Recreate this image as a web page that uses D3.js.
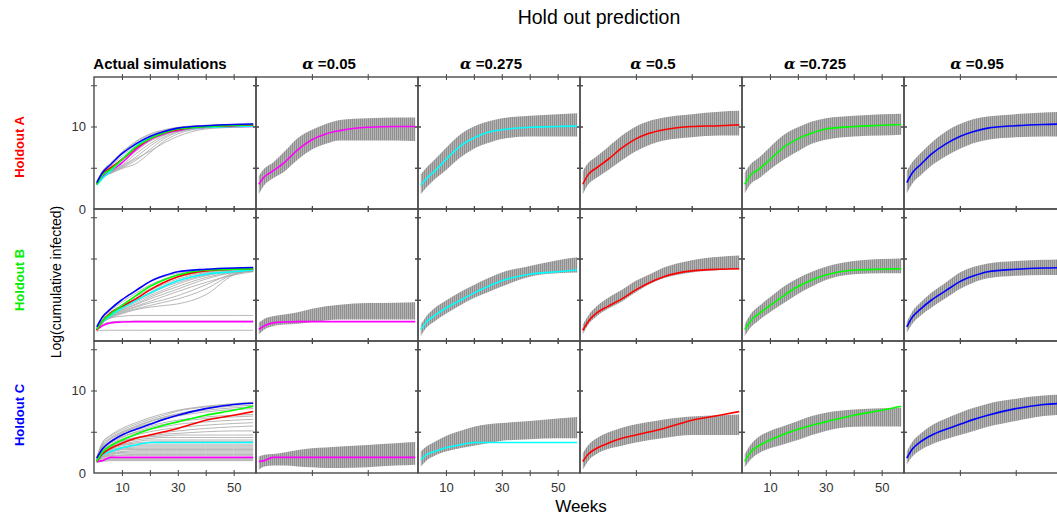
<!DOCTYPE html>
<html lang="en">
<head>
<meta charset="UTF-8">
<title>Hold out prediction</title>
<script src="https://d3js.org/d3.v7.min.js"></script>
<style>
  body { margin: 0; background: #fff; }
  text { font-family: "Liberation Sans", Arial, sans-serif; }
</style>
</head>
<body>
<svg id="chart"></svg>
<script>
const weeks = [1, 3, 6, 10, 15, 20, 25, 30, 40, 50, 57];
const alphas = ["0.05", "0.275", "0.5", "0.725", "0.95"];
const holdouts = ["Holdout A", "Holdout B", "Holdout C"];
const xTickLabels = [10, 30, 50];

// held-out trajectories, one per alpha (magenta, cyan, red, green, blue)
const predA = [
  [3.0, 3.9, 4.6, 5.6, 7.2, 8.4, 9.1, 9.5, 9.9, 10.0, 10.0],
  [2.9, 3.7, 4.6, 6.0, 7.6, 8.6, 9.3, 9.6, 9.9, 10.0, 10.05],
  [3.0, 4.2, 5.0, 6.0, 7.4, 8.5, 9.2, 9.6, 10.0, 10.1, 10.2],
  [3.0, 4.1, 4.8, 6.0, 7.5, 8.5, 9.2, 9.7, 10.0, 10.15, 10.25],
  [3.2, 4.4, 5.4, 6.7, 7.9, 8.8, 9.4, 9.8, 10.1, 10.25, 10.3]
];
const predB = [
  [1.4, 1.85, 2.2, 2.3, 2.35, 2.35, 2.35, 2.35, 2.35, 2.35, 2.35],
  [1.4, 2.3, 3.1, 4.0, 4.9, 5.8, 6.6, 7.3, 8.1, 8.4, 8.6],
  [1.3, 2.4, 3.4, 4.2, 5.1, 6.2, 7.1, 7.8, 8.5, 8.7, 8.75],
  [1.4, 2.4, 3.3, 4.3, 5.5, 6.6, 7.4, 8.0, 8.6, 8.7, 8.75],
  [1.7, 2.9, 3.9, 5.0, 6.1, 7.2, 7.9, 8.4, 8.7, 8.85, 8.9]
];
const predC = [
  [1.4, 1.5, 1.9, 1.9, 1.9, 1.9, 1.9, 1.9, 1.9, 1.9, 1.9],
  [1.6, 2.2, 2.6, 3.05, 3.4, 3.7, 3.7, 3.7, 3.7, 3.7, 3.7],
  [1.4, 2.3, 3.0, 3.6, 4.2, 4.6, 5.0, 5.4, 6.4, 7.0, 7.45],
  [1.4, 2.5, 3.3, 4.0, 4.7, 5.3, 5.8, 6.2, 7.0, 7.6, 8.1],
  [1.8, 2.9, 3.8, 4.6, 5.3, 5.9, 6.5, 7.0, 7.8, 8.3, 8.45]
];

// prediction bands (lower / upper), same order
const bandLoA = [
  [1.8, 2.9, 3.7, 4.5, 6.0, 7.2, 7.9, 8.3, 8.3, 8.3, 8.25],
  [1.8, 2.6, 3.6, 4.7, 6.2, 7.3, 8.0, 8.5, 8.8, 8.8, 8.8],
  [1.8, 3.0, 3.8, 4.7, 5.9, 7.0, 7.8, 8.3, 8.7, 8.9, 8.9],
  [1.9, 3.0, 3.7, 4.8, 6.0, 7.0, 7.9, 8.4, 8.8, 8.9, 9.0],
  [1.9, 3.1, 4.1, 5.3, 6.4, 7.3, 8.0, 8.4, 8.7, 8.8, 8.8]
];
const bandHiA = [
  [4.0, 4.9, 5.6, 6.9, 8.6, 9.6, 10.3, 10.8, 11.0, 11.1, 11.1],
  [4.2, 5.0, 6.0, 7.4, 9.0, 10.0, 10.6, 11.0, 11.3, 11.5, 11.6],
  [4.6, 5.6, 6.4, 7.5, 8.9, 10.0, 10.7, 11.1, 11.5, 11.8, 11.9],
  [4.4, 5.4, 6.2, 7.5, 9.0, 9.9, 10.6, 11.0, 11.3, 11.5, 11.55],
  [4.6, 5.7, 6.8, 8.1, 9.4, 10.3, 10.9, 11.2, 11.5, 11.7, 11.8]
];
const bandLoB = [
  [0.8, 1.4, 1.8, 2.0, 2.1, 2.3, 2.5, 2.6, 2.6, 2.6, 2.6],
  [0.6, 1.6, 2.4, 3.3, 4.3, 5.2, 5.9, 6.6, 7.8, 8.2, 8.3],
  [0.8, 2.0, 3.0, 3.9, 4.8, 5.9, 6.9, 7.6, 8.3, 8.6, 8.7],
  [0.6, 1.6, 2.5, 3.5, 4.6, 5.7, 6.6, 7.4, 8.1, 8.2, 8.2],
  [1.0, 2.1, 3.1, 4.1, 5.2, 6.3, 7.1, 7.6, 7.9, 8.0, 8.0]
];
const bandHiB = [
  [2.2, 2.7, 3.0, 3.2, 3.5, 3.9, 4.2, 4.4, 4.6, 4.65, 4.7],
  [2.0, 3.0, 4.0, 4.9, 5.9, 6.8, 7.6, 8.3, 9.1, 9.8, 10.15],
  [2.0, 3.1, 4.2, 5.2, 6.2, 7.3, 8.1, 8.9, 9.8, 10.2, 10.35],
  [2.0, 3.2, 4.2, 5.3, 6.6, 7.6, 8.4, 9.0, 9.7, 9.95, 10.0],
  [2.3, 3.6, 4.7, 5.9, 7.1, 8.3, 9.0, 9.4, 9.7, 9.85, 9.9]
];
const bandLoC = [
  [0.4, 0.8, 0.9, 0.9, 0.8, 0.7, 0.6, 0.6, 0.7, 0.9, 1.0],
  [0.8, 1.5, 2.1, 2.6, 3.0, 3.3, 3.6, 3.9, 4.1, 4.2, 4.2],
  [0.4, 1.5, 2.3, 2.9, 3.3, 3.7, 4.0, 4.25, 4.6, 4.6, 4.6],
  [0.7, 1.6, 2.4, 3.0, 3.5, 4.0, 4.6, 5.1, 5.6, 5.65, 5.65],
  [1.0, 2.0, 2.8, 3.5, 4.1, 4.6, 5.1, 5.6, 6.3, 6.9, 7.05]
];
const bandHiC = [
  [2.0, 2.2, 2.3, 2.5, 2.8, 3.0, 3.1, 3.2, 3.4, 3.6, 3.75],
  [2.6, 3.2, 3.8, 4.5, 5.1, 5.6, 5.9, 6.05, 6.3, 6.6, 6.8],
  [2.4, 3.4, 4.2, 4.9, 5.5, 5.9, 6.2, 6.5, 6.85, 7.0, 7.1],
  [2.3, 3.4, 4.4, 5.1, 5.7, 6.3, 6.9, 7.3, 7.7, 7.85, 7.9],
  [2.6, 3.8, 4.8, 5.8, 6.6, 7.3, 7.9, 8.4, 9.0, 9.4, 9.5]
];

// other simulated trajectories (grey) in the "Actual simulations" column
const simsA = [
  [3.0, 3.8, 4.3, 4.9, 5.5, 6.8, 8.2, 9.1, 9.8, 9.95, 10.0],
  [3.0, 3.8, 4.4, 5.0, 5.9, 7.2, 8.5, 9.3, 9.85, 10.0, 10.0],
  [3.0, 3.8, 4.4, 5.1, 6.1, 7.0, 8.0, 8.8, 9.7, 9.9, 10.0],
  [3.0, 3.9, 4.5, 5.2, 6.3, 7.6, 8.7, 9.4, 9.9, 10.0, 10.0],
  [3.0, 3.9, 4.5, 5.3, 6.7, 7.9, 8.9, 9.5, 9.9, 10.0, 10.05],
  [3.1, 4.0, 4.7, 5.6, 7.0, 8.2, 9.0, 9.5, 9.9, 10.0, 10.05],
  [3.1, 4.1, 4.8, 5.8, 7.3, 8.5, 9.2, 9.6, 10.0, 10.1, 10.1],
  [3.2, 4.3, 5.2, 6.4, 7.8, 8.8, 9.4, 9.8, 10.1, 10.2, 10.2],
  [3.2, 4.5, 5.5, 6.8, 8.1, 9.0, 9.5, 9.85, 10.1, 10.2, 10.25],
  [3.3, 4.6, 5.6, 6.9, 8.2, 9.1, 9.6, 9.9, 10.15, 10.25, 10.3]
];
const simsB = [
  [1.2, 1.3, 1.3, 1.3, 1.3, 1.3, 1.3, 1.3, 1.3, 1.3, 1.3],
  [1.3, 2.0, 2.3, 2.4, 2.4, 2.4, 2.4, 2.4, 2.4, 2.4, 2.4],
  [1.3, 2.3, 2.8, 3.0, 3.1, 3.1, 3.1, 3.1, 3.1, 3.1, 3.1],
  [1.4, 2.2, 2.8, 3.3, 3.8, 4.1, 4.3, 4.5, 5.6, 8.0, 8.5],
  [1.4, 2.2, 2.9, 3.4, 3.9, 4.3, 4.7, 5.1, 6.3, 8.1, 8.5],
  [1.4, 2.2, 2.9, 3.5, 4.1, 4.6, 5.0, 5.5, 6.8, 8.2, 8.5],
  [1.4, 2.3, 3.0, 3.6, 4.2, 4.8, 5.4, 6.0, 7.1, 8.0, 8.4],
  [1.4, 2.3, 3.0, 3.7, 4.4, 5.1, 5.7, 6.3, 7.5, 8.3, 8.5],
  [1.4, 2.3, 3.1, 3.8, 4.5, 5.3, 6.0, 6.6, 7.7, 8.3, 8.5],
  [1.4, 2.3, 3.1, 3.9, 4.7, 5.5, 6.2, 6.9, 7.9, 8.4, 8.55],
  [1.4, 2.4, 3.2, 4.0, 4.9, 5.7, 6.5, 7.1, 8.0, 8.45, 8.6],
  [1.4, 2.4, 3.2, 4.1, 5.0, 5.9, 6.7, 7.3, 8.2, 8.5, 8.6],
  [1.4, 2.4, 3.3, 4.2, 5.2, 6.1, 6.9, 7.5, 8.3, 8.6, 8.6],
  [1.5, 2.6, 3.5, 4.4, 5.4, 6.3, 7.1, 7.7, 8.4, 8.6, 8.65],
  [1.5, 2.7, 3.7, 4.7, 5.8, 6.8, 7.5, 8.0, 8.5, 8.7, 8.7],
  [1.6, 2.9, 4.0, 5.0, 6.2, 7.2, 7.8, 8.2, 8.6, 8.75, 8.8]
];
const simsC = [
  [1.3, 1.4, 1.5, 1.5, 1.5, 1.5, 1.5, 1.5, 1.5, 1.5, 1.5],
  [1.3, 1.5, 1.6, 1.6, 1.6, 1.6, 1.6, 1.6, 1.6, 1.6, 1.6],
  [1.3, 1.5, 1.7, 1.7, 1.7, 1.7, 1.7, 1.7, 1.7, 1.7, 1.7],
  [1.4, 1.7, 1.8, 1.8, 1.8, 1.8, 1.8, 1.8, 1.8, 1.8, 1.8],
  [1.4, 1.8, 2.0, 2.1, 2.1, 2.1, 2.1, 2.1, 2.1, 2.1, 2.1],
  [1.4, 1.9, 2.1, 2.2, 2.25, 2.25, 2.25, 2.25, 2.25, 2.25, 2.25],
  [1.4, 1.9, 2.2, 2.4, 2.4, 2.4, 2.4, 2.4, 2.4, 2.4, 2.4],
  [1.4, 2.0, 2.3, 2.5, 2.55, 2.55, 2.55, 2.55, 2.55, 2.55, 2.55],
  [1.4, 2.0, 2.4, 2.6, 2.7, 2.7, 2.7, 2.7, 2.7, 2.7, 2.7],
  [1.5, 2.1, 2.5, 2.8, 2.85, 2.85, 2.85, 2.85, 2.85, 2.85, 2.85],
  [1.5, 2.2, 2.6, 2.9, 3.0, 3.0, 3.0, 3.0, 3.0, 3.0, 3.0],
  [1.5, 2.2, 2.7, 3.0, 3.15, 3.15, 3.15, 3.15, 3.15, 3.15, 3.15],
  [1.5, 2.3, 2.8, 3.1, 3.3, 3.3, 3.3, 3.3, 3.3, 3.3, 3.3],
  [1.5, 2.4, 2.9, 3.3, 3.5, 3.5, 3.5, 3.5, 3.5, 3.5, 3.5],
  [1.5, 2.5, 3.0, 3.4, 3.65, 3.75, 3.8, 3.8, 3.8, 3.8, 3.8],
  [1.5, 2.5, 3.1, 3.5, 3.8, 4.0, 4.0, 4.0, 4.0, 4.0, 4.0],
  [1.5, 2.6, 3.2, 3.7, 4.0, 4.2, 4.3, 4.3, 4.3, 4.3, 4.3],
  [1.6, 2.7, 3.3, 3.8, 4.2, 4.4, 4.5, 4.6, 4.6, 4.6, 4.6],
  [1.6, 2.7, 3.4, 3.9, 4.3, 4.5, 4.7, 4.8, 5.0, 5.1, 5.1],
  [1.6, 2.8, 3.4, 3.9, 4.3, 4.6, 4.9, 5.1, 5.4, 5.6, 5.7],
  [1.6, 2.9, 3.6, 4.1, 4.6, 5.0, 5.3, 5.5, 5.8, 6.0, 6.1],
  [1.7, 3.0, 3.7, 4.3, 4.9, 5.3, 5.6, 5.9, 6.2, 6.4, 6.5],
  [1.7, 3.0, 3.8, 4.4, 5.0, 5.5, 5.9, 6.2, 6.6, 6.8, 6.9],
  [1.7, 3.1, 3.9, 4.6, 5.2, 5.7, 6.1, 6.4, 6.8, 7.0, 7.1],
  [1.8, 3.2, 4.1, 4.8, 5.5, 6.0, 6.5, 6.9, 7.4, 7.7, 7.8],
  [1.8, 3.3, 4.2, 4.9, 5.6, 6.2, 6.7, 7.1, 7.6, 7.9, 8.0],
  [1.8, 3.4, 4.3, 5.0, 5.7, 6.3, 6.8, 7.2, 7.8, 8.1, 8.2],
  [1.9, 3.6, 4.5, 5.2, 5.9, 6.5, 7.0, 7.5, 8.0, 8.3, 8.5],
  [1.9, 3.7, 4.6, 5.4, 6.1, 6.7, 7.2, 7.6, 8.1, 8.4, 8.6]
];

const preds = [predA, predB, predC];
const bandLo = [bandLoA, bandLoB, bandLoC];
const bandHi = [bandHiA, bandHiB, bandHiC];
const sims = [simsA, simsB, simsC];

const lineColors = ["#ff00ff", "#00ffff", "#ff0000", "#00ff00", "#0000ff"];
const rowColors = ["#ff0000", "#00ee00", "#0000ff"];

const svgW = 1057, svgH = 518;
const panelLeft = 94, panelTop = 77, pw = 162, ph = 132;

const svg = d3.select("#chart").attr("width", svgW).attr("height", svgH);

const x = d3.scaleLinear().domain([0, 58]).range([0, pw]);
const y = d3.scaleLinear().domain([0, 16]).range([ph, 0]);

const line = d3.line()
  .x((d, i) => x(weeks[i]))
  .y(d => y(d))
  .curve(d3.curveMonotoneX);

const area = d3.area()
  .x((d, i) => x(weeks[i]))
  .y0(d => y(d[0]))
  .y1(d => y(d[1]))
  .curve(d3.curveMonotoneX);

// hatched grey band like the dense error bars of the original
const defs = svg.append("defs");
const pat = defs.append("pattern")
  .attr("id", "hatch")
  .attr("patternUnits", "userSpaceOnUse")
  .attr("width", 2).attr("height", 10);
pat.append("rect").attr("width", 2).attr("height", 10).attr("fill", "#b4b4b4");
pat.append("rect").attr("width", 1).attr("height", 10).attr("fill", "#8f8f8f");

holdouts.forEach((h, r) => {
  for (let c = 0; c < 6; c++) {
    const g = svg.append("g")
      .attr("transform", `translate(${panelLeft + c * pw},${panelTop + r * ph})`);

    const clipId = `clip-${r}-${c}`;
    defs.append("clipPath").attr("id", clipId)
      .append("rect").attr("width", pw).attr("height", ph);

    const plot = g.append("g").attr("clip-path", `url(#${clipId})`);

    if (c === 0) {
      plot.selectAll(".sim")
        .data(sims[r])
        .join("path")
        .attr("d", line)
        .attr("fill", "none")
        .attr("stroke", "#a4a4a4")
        .attr("stroke-width", 0.8);
      plot.selectAll(".pred")
        .data(preds[r])
        .join("path")
        .attr("d", line)
        .attr("fill", "none")
        .attr("stroke", (d, i) => lineColors[i])
        .attr("stroke-width", 1.6);
    } else {
      const k = c - 1;
      const band = bandLo[r][k].map((lo, i) => [lo, bandHi[r][k][i]]);
      plot.append("path")
        .datum(band)
        .attr("d", area)
        .attr("fill", "url(#hatch)");
      plot.append("path")
        .datum(preds[r][k])
        .attr("d", line)
        .attr("fill", "none")
        .attr("stroke", lineColors[k])
        .attr("stroke-width", 1.6);
    }

    // ticks on all four sides, crossing the frame
    const xt = (c % 2 === 0) ? [10, 20, 30, 40, 50] : [20, 40];
    const yt = [5, 10, 15];
    [0, ph].forEach(yy => {
      const ax = g.append("g")
        .attr("transform", `translate(0,${yy})`)
        .call(d3.axisBottom(x).tickValues(xt).tickSize(3).tickFormat(""));
      ax.select(".domain").remove();
      ax.selectAll(".tick line").attr("y1", -3).attr("stroke", "#444");
    });
    [0, pw].forEach(xx => {
      const ay = g.append("g")
        .attr("transform", `translate(${xx},0)`)
        .call(d3.axisLeft(y).tickValues(yt).tickSize(3).tickFormat(""));
      ay.select(".domain").remove();
      ay.selectAll(".tick line").attr("x1", 3).attr("stroke", "#444");
    });

    g.append("rect")
      .attr("width", pw).attr("height", ph)
      .attr("fill", "none")
      .attr("stroke", "#4a4a4a")
      .attr("stroke-width", 1.4);

    // x labels under columns 1, 3, 5 of the last row
    if (r === 2 && c % 2 === 0) {
      const lx = g.append("g")
        .attr("transform", `translate(0,${ph})`)
        .call(d3.axisBottom(x).tickValues(xTickLabels).tickSize(0).tickPadding(10));
      lx.select(".domain").remove();
      lx.selectAll("text")
        .attr("font-family", "Liberation Sans, Arial, sans-serif")
        .attr("font-size", 13).attr("fill", "#333");
    }
    // y labels on rows A and C of the first column
    if (c === 0 && r !== 1) {
      const ly = g.append("g")
        .call(d3.axisLeft(y).tickValues([0, 10]).tickSize(0).tickPadding(8));
      ly.select(".domain").remove();
      ly.selectAll("text")
        .attr("font-family", "Liberation Sans, Arial, sans-serif")
        .attr("font-size", 13).attr("fill", "#333");
    }
  }
});

// title and headers
svg.append("text")
  .attr("x", 599).attr("y", 24)
  .attr("text-anchor", "middle")
  .attr("font-size", 19.5)
  .text("Hold out prediction");

svg.append("text")
  .attr("x", 160).attr("y", 69)
  .attr("text-anchor", "middle")
  .attr("font-size", 15).attr("font-weight", "bold")
  .text("Actual simulations");

alphas.forEach((a, i) => {
  const t = svg.append("text")
    .attr("x", panelLeft + (i + 1) * pw + pw / 2 - 8).attr("y", 69)
    .attr("text-anchor", "middle")
    .attr("font-size", 15).attr("font-weight", "bold");
  t.append("tspan")
    .attr("font-family", "DejaVu Serif, serif")
    .attr("font-style", "italic")
    .text("α");
  t.append("tspan").text(" =" + a);
});

// row labels
const rowCenters = [147, 280, 415];
holdouts.forEach((h, r) => {
  svg.append("text")
    .attr("transform", `translate(24,${rowCenters[r]}) rotate(-90)`)
    .attr("text-anchor", "middle")
    .attr("font-size", 13).attr("font-weight", "bold")
    .attr("fill", rowColors[r])
    .text(h);
});

svg.append("text")
  .attr("transform", "translate(61,282) rotate(-90)")
  .attr("text-anchor", "middle")
  .attr("font-size", 14)
  .text("Log(cumulative infected)");

svg.append("text")
  .attr("x", 581).attr("y", 512)
  .attr("text-anchor", "middle")
  .attr("font-size", 17)
  .text("Weeks");
</script>
</body>
</html>
